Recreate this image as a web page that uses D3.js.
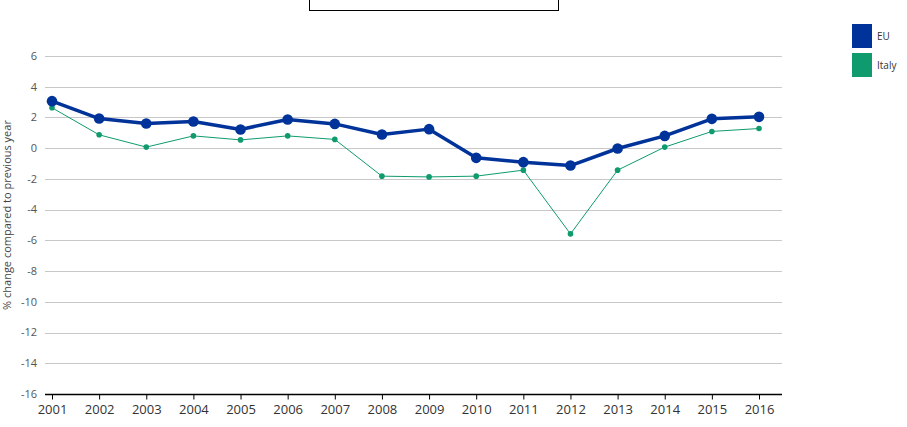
<!DOCTYPE html>
<html><head><meta charset="utf-8">
<script src="https://cdn.jsdelivr.net/npm/d3@7"></script>
<style>body{margin:0;background:#fff;font-family:"Open Sans",sans-serif;}</style>
</head><body><svg id="c" width="907" height="427"></svg>
<script>
const years = [2001,2002,2003,2004,2005,2006,2007,2008,2009,2010,2011,2012,2013,2014,2015,2016];
const euValues = [3.06,1.93,1.61,1.74,1.22,1.87,1.58,0.89,1.24,-0.63,-0.91,-1.13,-0.02,0.80,1.91,2.04];
const italyValues = [2.63,0.87,0.07,0.80,0.54,0.80,0.57,-1.82,-1.87,-1.82,-1.43,-5.58,-1.43,0.07,1.09,1.28];
const yTicks = [6,4,2,0,-2,-4,-6,-8,-10,-12,-14,-16];
const seriesNames = ["EU","Italy"];
const colors = ["#003399","#0f9b6e"];

const svg = d3.select("#c");
const x = d3.scaleLinear().domain([2001,2016]).range([52,759]);
const y = d3.scaleLinear().domain([-16,6]).range([394,56]);
const gridL = 45, gridR = 782;

// title box (cut off at top)
svg.append("rect").attr("x",309.5).attr("y",-20).attr("width",249).attr("height",30.5)
  .attr("fill","#fff").attr("stroke","#000").attr("stroke-width",1);

// gridlines + y labels
const gy = svg.append("g");
yTicks.forEach(t=>{
  if(t!==-16) gy.append("line").attr("x1",gridL).attr("x2",gridR).attr("y1",Math.round(y(t))+0.5).attr("y2",Math.round(y(t))+0.5)
    .attr("stroke","#c8c8c8").attr("stroke-width",1);
  gy.append("text").attr("x",37).attr("y",y(t)).attr("dy","0.35em").attr("text-anchor","end")
    .attr("font-size",11).attr("fill","#555").text(t);
});

// x axis
const xAxis = d3.axisBottom(x).tickValues(years).tickFormat(d3.format("d")).tickSize(5).tickSizeOuter(0);
const gx = svg.append("g").attr("transform",`translate(0,${Math.round(y(-16))+0.5})`).call(xAxis);
gx.select(".domain").remove();
gx.append("line").attr("x1",gridL).attr("x2",gridR).attr("stroke","#000").attr("stroke-width",1.5);
gx.selectAll(".tick line").attr("stroke","#000");
gx.selectAll(".tick text").attr("font-family","Open Sans").attr("font-size",13).attr("fill","#333").attr("dy","0.9em");

// y title
svg.append("text").attr("transform","translate(11,215) rotate(-90)").attr("text-anchor","middle")
  .attr("font-size",11).attr("fill","#444").text("% change compared to previous year");

// lines
const line = d3.line().x((d,i)=>x(years[i])).y(d=>y(d));
svg.append("path").datum(italyValues).attr("d",line).attr("fill","none").attr("stroke",colors[1]).attr("stroke-width",1);
svg.selectAll(".it").data(italyValues).enter().append("circle").attr("cx",(d,i)=>x(years[i])).attr("cy",d=>y(d)).attr("r",2.8).attr("fill",colors[1]);
svg.append("path").datum(euValues).attr("d",line).attr("fill","none").attr("stroke",colors[0]).attr("stroke-width",3.5).attr("stroke-linejoin","round");
svg.selectAll(".eu").data(euValues).enter().append("circle").attr("cx",(d,i)=>x(years[i])).attr("cy",d=>y(d)).attr("r",5.3).attr("fill",colors[0]);

// legend
seriesNames.forEach((n,i)=>{
  const yy = 24 + i*29;
  svg.append("rect").attr("x",852).attr("y",yy).attr("width",20).attr("height",24).attr("fill",colors[i]);
  svg.append("text").attr("x",877).attr("y",yy+12).attr("dy","0.35em").attr("font-size",10).attr("fill","#333").text(n);
});
</script></body></html>
